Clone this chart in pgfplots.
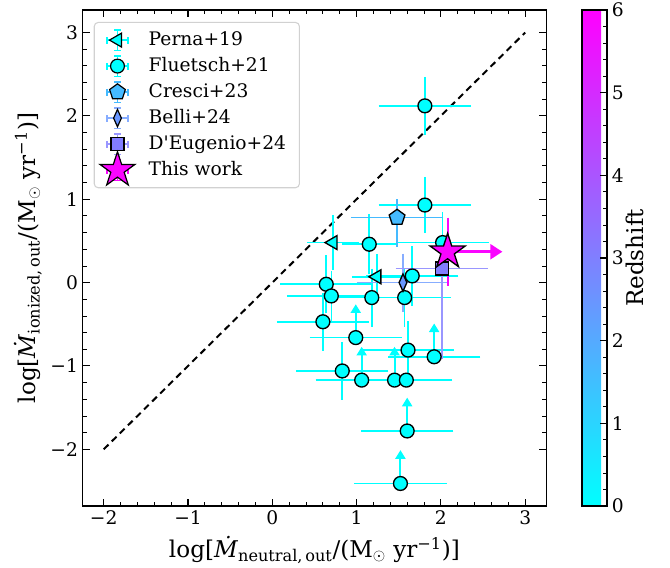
\documentclass[border=0pt]{standalone}
\usepackage{fontspec}
\setmainfont{DejaVu Serif}
\usepackage{pgfplots}
\usepackage{pgfplotstable}
\pgfplotsset{compat=1.18}
\usetikzlibrary{arrows.meta}

\definecolor{cA}{rgb}{0,1,1}
\definecolor{cCre}{rgb}{0.27,0.73,1}
\definecolor{cBel}{rgb}{0.41,0.59,1}
\definecolor{cDEu}{rgb}{0.51,0.49,1}
\definecolor{cStar}{rgb}{0.98,0.02,1}
\definecolor{cBelE}{rgb}{0.53,0.68,1}
\definecolor{cDEuE}{rgb}{0.60,0.59,1}
\pgfplotsset{colormap={coolmap}{rgb=(0,1,1) rgb=(1,0,1)}}

\pgfdeclareplotmark{fstar}{%
 \pgfpathmoveto{\pgfpointpolar{90}{\pgfplotmarksize}}%
 \pgfpathlineto{\pgfpointpolar{126}{0.382\pgfplotmarksize}}%
 \pgfpathlineto{\pgfpointpolar{162}{\pgfplotmarksize}}%
 \pgfpathlineto{\pgfpointpolar{198}{0.382\pgfplotmarksize}}%
 \pgfpathlineto{\pgfpointpolar{234}{\pgfplotmarksize}}%
 \pgfpathlineto{\pgfpointpolar{270}{0.382\pgfplotmarksize}}%
 \pgfpathlineto{\pgfpointpolar{306}{\pgfplotmarksize}}%
 \pgfpathlineto{\pgfpointpolar{342}{0.382\pgfplotmarksize}}%
 \pgfpathlineto{\pgfpointpolar{18}{\pgfplotmarksize}}%
 \pgfpathlineto{\pgfpointpolar{54}{0.382\pgfplotmarksize}}%
 \pgfpathclose
 \pgfusepathqfillstroke}

% Fluetsch+21
\pgfplotstableread{
x y xm xp ym yp
1.81 2.12 0.50 0.50 0.30 0.30
1.81 0.93 0.50 0.50 0.29 0.29
1.15 0.46 0.27 0.27 0.31 0.31
2.02 0.48 0.50 0.50 0.32 0.32
1.66 0.08 0.50 0.50 0.31 0.31
0.64 -0.02 0.50 0.50 0.30 0.30
0.70 -0.16 0.48 0.48 0.25 0.25
1.18 -0.18 0.50 0.50 0.30 0.30
1.57 -0.18 0.50 0.50 0.30 0.30
0.60 -0.47 0.50 0.50 0.30 0.30
0.99 -0.66 0.50 0.50 0.00 0.00
1.61 -0.81 0.50 0.50 0.30 0.30
1.92 -0.89 0.50 0.50 0.00 0.00
0.83 -1.06 0.50 0.50 0.30 0.30
1.06 -1.17 0.50 0.50 0.00 0.00
1.45 -1.17 0.50 0.50 0.00 0.00
1.59 -1.17 0.50 0.50 0.00 0.00
1.60 -1.78 0.50 0.50 0.00 0.00
1.52 -2.41 0.50 0.50 0.00 0.00
}\fluetsch
% lower limits (arrows) for Fluetsch+21
\pgfplotstableread{
x y u v
0.99 -0.66 0 0.40
1.92 -0.89 0 0.40
1.06 -1.17 0 0.40
1.45 -1.17 0 0.40
1.60 -1.78 0 0.40
1.52 -2.41 0 0.40
}\fluetschlim
% Perna+19
\pgfplotstableread{
x y xm xp ym yp
0.72 0.48 0.26 0.26 0.28 0.28
1.24 0.07 0.25 0.25 0.22 0.22
}\perna
% Cresci+23
\pgfplotstableread{
x y xm xp ym yp
1.48 0.78 0.50 0.50 0.30 0.17
}\cresci
% Belli+24
\pgfplotstableread{
x y xm xp ym yp
1.55 0.00 0.50 0.50 0.30 0.30
}\belli
% D'Eugenio+24
\pgfplotstableread{
x y xm xp ym yp
2.01 0.17 0.50 0.50 1.04 0.10
}\deug
% This work
\pgfplotstableread{
x y xm xp ym yp
2.08 0.37 0.00 0.00 0.36 0.36
}\thiswork
\pgfplotstableread{
x y u v
2.08 0.37 0.65 0
}\thisworklim

\newcommand{\errleg}[3]{%
 \addlegendimage{legend image code/.code={%
  \path (0cm,-0.15cm) (0.6cm,0.15cm);
  \begin{pgfinterruptboundingbox}
  \draw[#1, line width=1pt] (0.3cm,-0.27cm)--(0.3cm,0.27cm) (0.21cm,-0.27cm)--(0.39cm,-0.27cm) (0.21cm,0.27cm)--(0.39cm,0.27cm) (0.02cm,0cm)--(0.58cm,0cm) (0.02cm,-0.09cm)--(0.02cm,0.09cm) (0.58cm,-0.09cm)--(0.58cm,0.09cm);
  \draw[#2] plot coordinates {(0.3cm,0cm)};
  \end{pgfinterruptboundingbox}}}%
 \addlegendentry{#3}}

\pgfplotsset{
 errbase/.style n args={2}{color=#1, only marks, mark=none, forget plot,
   error bars/x dir=both, error bars/x explicit, error bars/y dir=both, error bars/y explicit,
   error bars/error bar style={color=#1, line width=#2},
   error bars/error mark options={color=#1, line width=#2, mark size=3pt}},
}

\begin{document}
\begin{tikzpicture}
\path[use as bounding box] (-62pt,-45.75pt) rectangle (440.5pt,379.5pt);
\begin{axis}[
 at={(0,0)}, anchor=south west,
 scale only axis, width=347.7pt, height=372pt,
 xmin=-2.25, xmax=3.25, ymin=-2.68, ymax=3.27,
 xtick={-2,-1,0,1,2,3}, xticklabels={−2,−1,0,1,2,3},
 ytick={-2,-1,0,1,2,3}, yticklabels={−2,−1,0,1,2,3},
 minor x tick num=4, minor y tick num=4,
 tick align=inside, major tick length=5.5pt, minor tick length=3pt,
 every tick/.style={black, line width=0.8pt},
 minor tick style={line width=0.6pt},
 axis line style={line width=0.9pt},
 tick label style={font=\fontsize{14}{16}\selectfont},
 label style={font=\fontsize{17.3}{20}\selectfont},
 xlabel={log[\textit{\.{M}}\textsubscript{neutral,\,out}/(M$_\odot$ yr\textsuperscript{−1})]},
 ylabel={log[\textit{\.{M}}\textsubscript{ionized,\,out}/(M$_\odot$ yr\textsuperscript{−1})]},
 xlabel style={at={(axis description cs:0.5,-0.089)}, anchor=center},
 ylabel style={at={(axis description cs:-0.118,0.5)}, anchor=center},
 colormap name=coolmap, point meta min=0, point meta max=6,
 colorbar,
 colorbar style={
   at={(parent axis.north east)}, anchor=north west, xshift=18.3pt,
   scale only axis, width=18.75pt, height=372pt,
   ytick={0,1,2,3,4,5,6}, yticklabels={0,1,2,3,4,5,6},
   minor y tick num=4, tick align=inside, ytick pos=right,
   major tick length=5.5pt, minor tick length=3pt,
   every tick/.style={black, line width=0.8pt},
   minor tick style={line width=0.6pt},
   axis line style={line width=0.9pt},
   yticklabel style={font=\fontsize{14}{16}\selectfont},
   ylabel={Redshift},
   ylabel style={at={(axis description cs:2.12,0.5)}, anchor=center, font=\fontsize{17.3}{20}\selectfont},
 },
 legend style={at={(0.0238,0.976)}, anchor=north west,
   draw=black!18, rounded corners=3pt, line width=0.8pt, fill=white,
   font=\fontsize{14}{16}\selectfont, row sep=3pt,
   inner xsep=8.5pt, inner ysep=5pt,
   nodes={inner sep=1.5pt, text height=10.5pt, text depth=3pt},
   /tikz/every odd column/.append style={column sep=13pt}},
 legend cell align=left,
]
\errleg{cA}{black, fill=cA, line width=0.9pt, mark=triangle*, mark size=6pt, mark options={rotate=90}}{Perna+19}
\errleg{cA}{black, fill=cA, line width=0.9pt, mark=*, mark size=5.2pt}{Fluetsch+21}
\errleg{cCre}{black, fill=cCre, line width=0.9pt, mark=pentagon*, mark size=6.2pt}{Cresci+23}
\errleg{cBelE}{black, fill=cBel, line width=0.9pt, mark=diamond*, mark size=6.5pt, mark options={xscale=0.6}}{Belli+24}
\errleg{cDEuE}{black, fill=cDEu, line width=0.9pt, mark=square*, mark size=4.9pt}{D\textquotesingle Eugenio+24}
\errleg{cStar}{black, fill=cStar, line width=0.9pt, mark=fstar, mark size=13.8pt}{This work}

% dashed one-to-one line
\addplot[black, line width=1.5pt, dash pattern=on 5pt off 3.5pt, forget plot] coordinates {(-2,-2) (3,3)};

% error bars
\addplot[errbase={cA}{1.2pt}]
 table[x=x, y=y, x error plus=xp, x error minus=xm, y error plus=yp, y error minus=ym] \fluetsch;
\addplot[cA, line width=1.5pt, -{Triangle[width=7.5pt,length=6.5pt]}, forget plot, quiver={u=\thisrow{u}, v=\thisrow{v}}]
 table[x=x, y=y] \fluetschlim;
\addplot[errbase={cA}{1.2pt}]
 table[x=x, y=y, x error plus=xp, x error minus=xm, y error plus=yp, y error minus=ym] \perna;
\addplot[errbase={cCre}{1.2pt}]
 table[x=x, y=y, x error plus=xp, x error minus=xm, y error plus=yp, y error minus=ym] \cresci;
\addplot[errbase={cBelE}{1.2pt}]
 table[x=x, y=y, x error plus=xp, x error minus=xm, y error plus=yp, y error minus=ym] \belli;
\addplot[errbase={cDEuE}{1.2pt}]
 table[x=x, y=y, x error plus=xp, x error minus=xm, y error plus=yp, y error minus=ym] \deug;

% markers
\addplot[only marks, forget plot, mark=*, mark size=5.2pt, mark options={draw=black, fill=cA, line width=1pt}] table[x=x, y=y] \fluetsch;
\addplot[only marks, forget plot, mark=triangle*, mark size=6pt, mark options={draw=black, fill=cA, line width=1pt, rotate=90}] table[x=x, y=y] \perna;
\addplot[only marks, forget plot, mark=pentagon*, mark size=6.2pt, mark options={draw=black, fill=cCre, line width=1pt}] table[x=x, y=y] \cresci;
\addplot[only marks, forget plot, mark=diamond*, mark size=6.5pt, mark options={draw=black, fill=cBel, line width=1pt, xscale=0.6}] table[x=x, y=y] \belli;
\addplot[only marks, forget plot, mark=square*, mark size=4.9pt, mark options={draw=black, fill=cDEu, line width=1pt}] table[x=x, y=y] \deug;

% this work
\addplot[errbase={cStar}{1.5pt}]
 table[x=x, y=y, x error plus=xp, x error minus=xm, y error plus=yp, y error minus=ym] \thiswork;
\addplot[cStar, line width=2.2pt, -{Triangle[width=11pt,length=9pt]}, forget plot, quiver={u=\thisrow{u}, v=\thisrow{v}}]
 table[x=x, y=y] \thisworklim;
\addplot[only marks, forget plot, mark=fstar, mark size=13.8pt, mark options={draw=black, fill=cStar, line width=1pt}] table[x=x, y=y] \thiswork;
\end{axis}
\end{tikzpicture}
\end{document}
